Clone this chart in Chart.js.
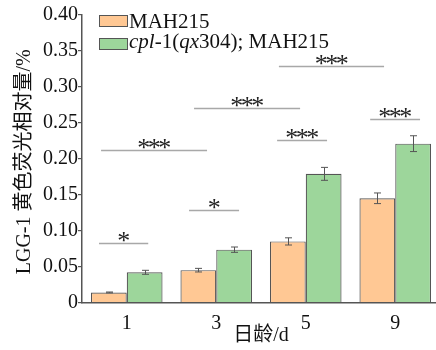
<!DOCTYPE html>
<html>
<head>
<meta charset="utf-8">
<script src="https://cdn.jsdelivr.net/npm/chart.js@4/dist/chart.umd.min.js"></script>
<style>
  html, body { margin: 0; padding: 0; overflow: hidden; background: #fff; }
  .warm { position: absolute; left: -999px; top: 0; font-family: "Liberation Serif"; font-size: 20px; }
</style>
</head>
<body>
<span class="warm">0.40 MAH215 <i>cpl qx</i> 日龄</span>
<canvas id="chart" width="440" height="350"></canvas>
<script>
// data
const days = ['1', '3', '5', '9'];
const mah215 = [0.014, 0.045, 0.085, 0.145];
const mah215Err = [0.0006, 0.0025, 0.005, 0.0074];
const cpl1 = [0.042, 0.0735, 0.179, 0.221];
const cpl1Err = [0.0028, 0.0037, 0.009, 0.011];
const yTicks = [0, 0.05, 0.10, 0.15, 0.20, 0.25, 0.30, 0.35, 0.40];

// significance brackets (x in category index units, y in data units)
const sigLabel = ['*', '*', '***', '***', '***', '***', '***'];
const sigFrom = [-0.31, 0.696, 1.68, 2.72, -0.287, 0.752, 1.70];
const sigTo = [0.24, 1.255, 2.238, 3.277, 0.897, 1.937, 2.875];
const sigY = [0.083, 0.128, 0.226, 0.2555, 0.212, 0.270, 0.329];

const seriesNames = ['MAH215', 'cpl-1(qx304); MAH215'];
// legend text for the mutant, with italic parts
const seriesName2Parts = [['cpl', true], ['-1(', false], ['qx', true], ['304); MAH215', false]];
const yTitle = 'LGG-1 黄色荧光相对量/%';
const xTitle = '日龄/d';

const SERIF = "'Liberation Serif', 'Times New Roman', 'Noto Sans CJK SC', serif";
const orange = '#FFC894';
const green = '#9DD69B';
const edge = '#555555';

const errorBars = {
  id: 'errorBars',
  afterDatasetsDraw(chart) {
    const ctx = chart.ctx;
    const y = chart.scales.y;
    const errs = [mah215Err, cpl1Err];
    ctx.save();
    ctx.strokeStyle = edge;
    ctx.lineWidth = 1;
    chart.data.datasets.forEach((ds, di) => {
      chart.getDatasetMeta(di).data.forEach((bar, i) => {
        const v = ds.data[i];
        const e = errs[di][i];
        const x = Math.round(bar.x) + 0.5;
        const y1 = y.getPixelForValue(v + e);
        const y2 = y.getPixelForValue(v - e);
        ctx.beginPath();
        ctx.moveTo(x, y1); ctx.lineTo(x, y2);
        ctx.moveTo(x - 3.5, y1); ctx.lineTo(x + 3.5, y1);
        ctx.moveTo(x - 3.5, y2); ctx.lineTo(x + 3.5, y2);
        ctx.stroke();
      });
    });
    ctx.restore();
  }
};

const annotations = {
  id: 'annotations',
  afterDraw(chart) {
    const ctx = chart.ctx;
    const xs = chart.scales.x;
    const ys = chart.scales.y;
    ctx.save();
    // significance lines
    for (let i = 0; i < sigLabel.length; i++) {
      const x1 = xs.getPixelForValue(sigFrom[i]);
      const x2 = xs.getPixelForValue(sigTo[i]);
      const yy = Math.round(ys.getPixelForValue(sigY[i])) + 0.5;
      ctx.strokeStyle = '#A8A8A8';
      ctx.lineWidth = 1.5;
      ctx.beginPath();
      ctx.moveTo(x1, yy); ctx.lineTo(x2, yy);
      ctx.stroke();
      ctx.fillStyle = '#222';
      ctx.font = '26px ' + SERIF;
      ctx.letterSpacing = '-2.5px';
      ctx.textAlign = 'center';
      ctx.textBaseline = 'alphabetic';
      ctx.fillText(sigLabel[i], (x1 + x2) / 2 - 1, yy + 5);
      ctx.letterSpacing = '0px';
    }

    // legend
    const colors = [orange, green];
    ctx.textAlign = 'left';
    ctx.textBaseline = 'alphabetic';
    [15, 38].forEach((top, i) => {
      ctx.fillStyle = colors[i];
      ctx.fillRect(99.5, top, 28, 11);
      ctx.strokeStyle = edge;
      ctx.lineWidth = 1;
      ctx.strokeRect(99.5, top + 0.5, 28, 11);
    });
    ctx.fillStyle = '#111';
    ctx.font = '21px ' + SERIF;
    ctx.fillText(seriesNames[0], 129, 27.5);
    let tx = 129;
    seriesName2Parts.forEach(([t, it]) => {
      ctx.font = (it ? 'italic ' : '') + '21px ' + SERIF;
      ctx.fillText(t, tx, 48);
      tx += ctx.measureText(t).width;
    });

    // axis titles
    const area = chart.chartArea;
    ctx.font = '20px ' + SERIF;
    ctx.textAlign = 'center';
    ctx.textBaseline = 'middle';
    ctx.fillText(xTitle, (area.left + area.right) / 2, 336);
    ctx.translate(25, (area.top + area.bottom) / 2 + 3);
    ctx.rotate(-Math.PI / 2);
    ctx.fillText(yTitle, 0, 0);
    ctx.restore();
  }
};

function draw() {
  new Chart(document.getElementById('chart'), {
    type: 'bar',
    data: {
      labels: days,
      datasets: [
        {
          label: seriesNames[0],
          data: mah215,
          backgroundColor: orange,
          borderColor: edge,
          borderWidth: 1.2,
          categoryPercentage: 0.8,
          barPercentage: 1.0
        },
        {
          label: seriesNames[1],
          data: cpl1,
          backgroundColor: green,
          borderColor: edge,
          borderWidth: 1.2,
          categoryPercentage: 0.8,
          barPercentage: 1.0
        }
      ]
    },
    options: {
      responsive: false,
      animation: false,
      devicePixelRatio: 1,
      layout: { padding: { top: 15, right: 0, left: 0, bottom: 0 } },
      plugins: {
        legend: { display: false },
        tooltip: { enabled: false }
      },
      scales: {
        x: {
          grid: { display: false },
          border: { color: edge, width: 1.5 },
          ticks: { color: '#111', font: { family: SERIF, size: 20 }, padding: 1 },
          afterFit(scale) { scale.height = 47.5; }
        },
        y: {
          min: 0,
          max: 0.4,
          afterBuildTicks(scale) { scale.ticks = yTicks.map(v => ({ value: v })); },
          grid: { drawOnChartArea: false, tickLength: 4, color: edge, lineWidth: 1.2 },
          border: { color: edge, width: 1.5 },
          ticks: {
            color: '#111',
            font: { family: SERIF, size: 20 },
            padding: 0,
            callback: v => v === 0 ? '0' : v.toFixed(2)
          },
          afterFit(scale) { scale.width = 82; }
        }
      }
    },
    plugins: [errorBars, annotations]
  });
}

Promise.all([
  document.fonts.load("20px 'Liberation Serif'"),
  document.fonts.load("italic 20px 'Liberation Serif'")
]).then(draw, draw);
</script>
</body>
</html>
